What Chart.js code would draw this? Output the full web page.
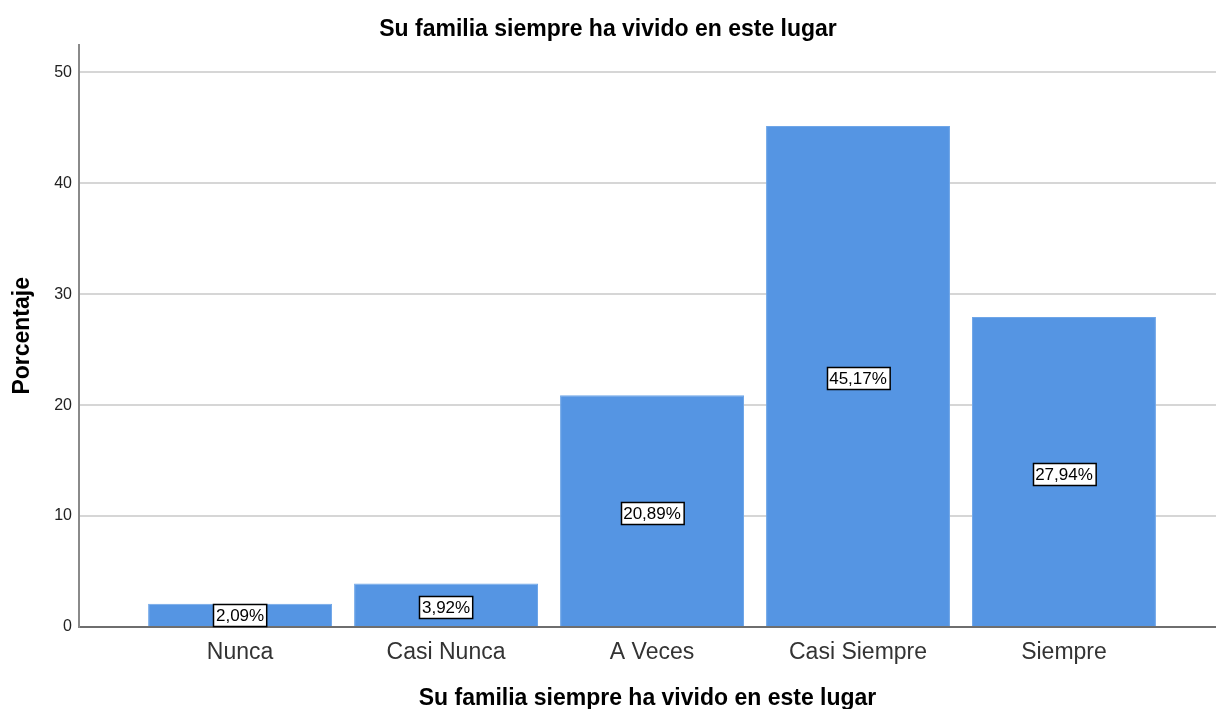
<!DOCTYPE html>
<html>
<head>
<meta charset="utf-8">
<script src="https://cdn.jsdelivr.net/npm/chart.js@4/dist/chart.umd.min.js"></script>
<style>
  html, body { margin: 0; padding: 0; background: #fff; }
  #wrap { width: 1216px; height: 709px; }
</style>
</head>
<body>
<div id="wrap"><canvas id="barChart"></canvas></div>
<script>
// Chart data
const categories = ['Nunca', 'Casi Nunca', 'A Veces', 'Casi Siempre', 'Siempre'];
const percentages = [2.09, 3.92, 20.89, 45.17, 27.94];
const yTicks = [0, 10, 20, 30, 40, 50];
const chartTitle = 'Su familia siempre ha vivido en este lugar';
const xTitle = 'Su familia siempre ha vivido en este lugar';
const yTitle = 'Porcentaje';

const font = 'Liberation Sans, Arial, sans-serif';

// Draws the boxed percentage labels in the middle of each bar
const boxLabels = {
    id: 'boxLabels',
    afterDatasetsDraw(chart) {
        const ctx = chart.ctx;
        const meta = chart.getDatasetMeta(0);
        ctx.save();
        ctx.font = '17px ' + font;
        ctx.textAlign = 'center';
        ctx.textBaseline = 'middle';
        meta.data.forEach((bar, i) => {
            const text = percentages[i].toFixed(2).replace('.', ',') + '%';
            const cy = Math.min((bar.y + bar.base) / 2 + 2.5, bar.base - 11);
            const w = ctx.measureText(text).width + 5;
            const h = 22;
            const x0 = Math.round(bar.x - w / 2) + 0.5;
            const y0 = Math.round(cy - h / 2) + 0.5;
            ctx.fillStyle = '#fff';
            ctx.fillRect(x0, y0, w, h);
            ctx.strokeStyle = '#000';
            ctx.lineWidth = 1.5;
            ctx.strokeRect(x0, y0, w, h);
            ctx.fillStyle = '#000';
            ctx.fillText(text, bar.x, cy + 1);
        });
        ctx.restore();
    }
};

new Chart(document.getElementById('barChart'), {
    type: 'bar',
    data: {
        datasets: [{
            data: percentages.map((v, i) => ({ x: i, y: v })),
            backgroundColor: '#5595e3',
            borderColor: '#6fa6e8',
            borderWidth: 1,
            barPercentage: 0.893,
            categoryPercentage: 1
        }]
    },
    options: {
        responsive: true,
        maintainAspectRatio: false,
        animation: false,
        layout: { padding: 0 },
        plugins: {
            legend: { display: false },
            tooltip: { enabled: false },
            title: {
                display: true,
                text: chartTitle,
                color: '#000',
                font: { family: font, size: 23, weight: 'bold' },
                padding: { top: 16, bottom: 1 }
            }
        },
        scales: {
            x: {
                type: 'linear',
                offset: false,
                min: -0.782,
                max: 4.738,
                afterBuildTicks: scale => {
                    scale.ticks = categories.map((c, i) => ({ value: i }));
                },
                afterFit: scale => { scale.height = 82; },
                ticks: {
                    callback: v => categories[v],
                    color: '#333',
                    font: { family: font, size: 23 },
                    padding: 12,
                    maxRotation: 0,
                    autoSkip: false
                },
                grid: { display: false, drawTicks: false },
                border: { display: true, color: '#6e6e6e', width: 2 },
                title: {
                    display: true,
                    text: xTitle,
                    color: '#000',
                    font: { family: font, size: 23, weight: 'bold' },
                    padding: { top: 0, bottom: -3 }
                }
            },
            y: {
                min: 0,
                max: 52.5,
                afterBuildTicks: scale => {
                    scale.ticks = yTicks.map(v => ({ value: v }));
                },
                afterFit: scale => { scale.width = 79; },
                ticks: {
                    color: '#222',
                    font: { family: font, size: 16 },
                    padding: 7
                },
                grid: {
                    drawTicks: false,
                    color: ctx => ctx.tick && ctx.tick.value === 0 ? 'rgba(0,0,0,0)' : '#d6d6d6',
                    lineWidth: 2
                },
                border: { display: true, color: '#8a8a8a', width: 2 },
                title: {
                    display: true,
                    text: yTitle,
                    color: '#000',
                    font: { family: font, size: 23, weight: 'bold' },
                    padding: { top: 9, bottom: 0 }
                }
            }
        }
    },
    plugins: [boxLabels]
});
</script>
</body>
</html>
